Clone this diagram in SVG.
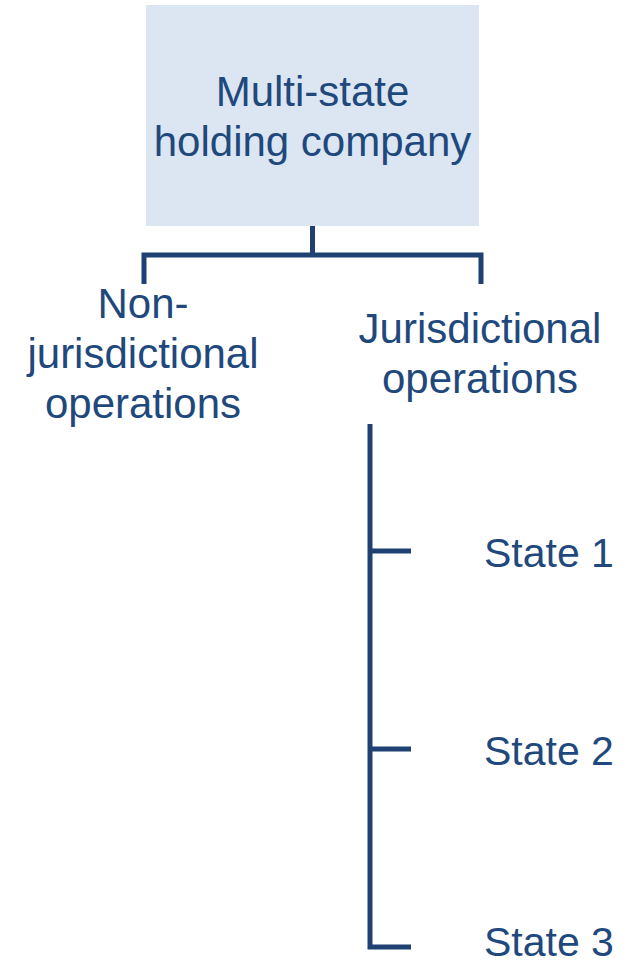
<svg xmlns="http://www.w3.org/2000/svg" width="631" height="965" viewBox="0 0 631 965">
<style>
.t{font-family:"Liberation Sans",Arial,sans-serif;font-size:42px;fill:#1F497D}
.s{font-size:41px}
.c{text-anchor:middle}
.ln{fill:none;stroke:#1F4072;stroke-width:5;stroke-linecap:butt;stroke-linejoin:miter}
</style>
<rect width="631" height="965" fill="#FFFFFF"/>
<g id="connectors">
<path class="ln" d="M312.5,226 V255 M144,284 V255 H481 V284"/>
<path class="ln" d="M370,424 V947 H411 M370,551 H411 M370,749 H411"/>
</g>
<g id="holding">
<rect x="146" y="5" width="333" height="221" fill="#DCE6F2"/>
<text class="t c" x="312.5" y="106">Multi-state</text>
<text class="t c" x="312.5" y="156">holding company</text>
</g>
<g id="nonjuris">
<text class="t c" x="143" y="318">Non-</text>
<text class="t c" x="143" y="368">jurisdictional</text>
<text class="t c" x="143" y="418">operations</text>
</g>
<g id="juris">
<text class="t c" x="480" y="343">Jurisdictional</text>
<text class="t c" x="480" y="393">operations</text>
</g>
<g id="state1"><text class="t s" x="484" y="567">State 1</text></g>
<g id="state2"><text class="t s" x="484" y="765">State 2</text></g>
<g id="state3"><text class="t s" x="484" y="956">State 3</text></g>
</svg>
